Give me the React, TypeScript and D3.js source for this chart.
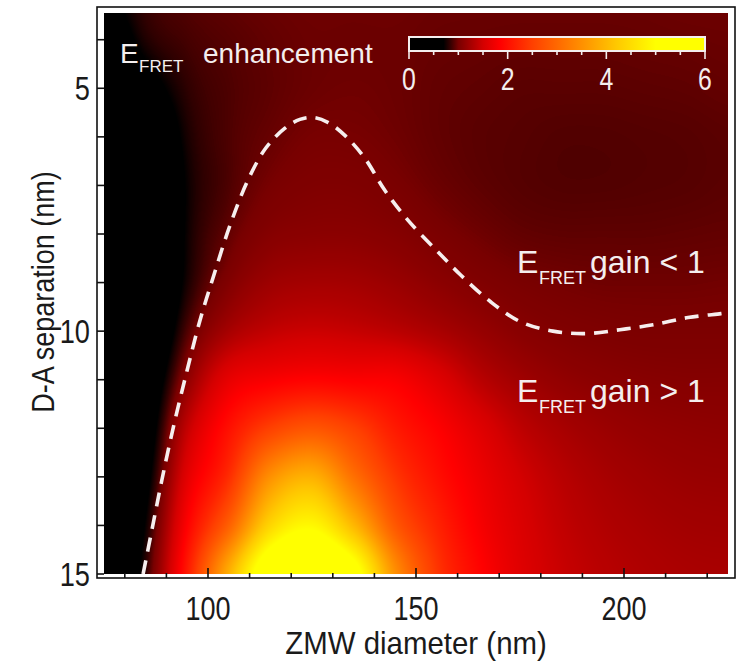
import React, { useMemo } from "react";
import * as d3 from "d3";

// ---------- data ----------
const X_GRID = [75, 85, 95, 105, 115, 125, 135, 145, 155, 165, 175, 185, 195, 205, 215, 225]; // ZMW diameter (nm)
const Y_GRID = [3, 4, 5, 6, 7, 8, 9, 10, 11, 12, 13, 14, 15]; // D-A separation (nm)
// E_FRET enhancement, one row per Y_GRID value, one column per X_GRID value
const ENHANCEMENT = [
  [0.65, 0.85, 0.92, 0.95, 0.97, 0.98, 0.98, 0.98, 0.97, 0.97, 0.97, 0.97, 0.97, 0.97, 0.98, 0.98],
  [0.45, 0.78, 0.88, 0.92, 0.95, 0.97, 0.97, 0.97, 0.96, 0.955, 0.95, 0.95, 0.95, 0.955, 0.96, 0.965],
  [0.1, 0.55, 0.82, 0.9, 0.94, 0.97, 0.98, 0.97, 0.95, 0.94, 0.93, 0.93, 0.93, 0.935, 0.94, 0.95],
  [0.0, 0.3, 0.76, 0.9, 0.96, 1.0, 1.0, 0.98, 0.95, 0.93, 0.92, 0.91, 0.91, 0.915, 0.92, 0.93],
  [0.0, 0.15, 0.72, 0.9, 1.0, 1.04, 1.04, 1.01, 0.97, 0.94, 0.92, 0.91, 0.91, 0.915, 0.92, 0.93],
  [0.0, 0.12, 0.73, 0.95, 1.07, 1.1, 1.1, 1.07, 1.02, 0.98, 0.95, 0.94, 0.94, 0.94, 0.945, 0.95],
  [0.0, 0.15, 0.76, 1.05, 1.2, 1.24, 1.23, 1.18, 1.11, 1.05, 1.01, 0.99, 0.98, 0.98, 0.98, 0.985],
  [0.0, 0.25, 0.9, 1.25, 1.4, 1.45, 1.42, 1.36, 1.27, 1.17, 1.09, 1.05, 1.03, 1.02, 1.02, 1.02],
  [0.03, 0.4, 1.12, 1.65, 1.8, 1.87, 1.83, 1.8, 1.6, 1.36, 1.22, 1.14, 1.1, 1.08, 1.07, 1.07],
  [0.08, 0.5, 1.4, 2.0, 2.5, 2.75, 2.5, 2.1, 1.85, 1.6, 1.38, 1.26, 1.19, 1.15, 1.13, 1.12],
  [0.12, 0.6, 1.62, 2.3, 3.5, 3.9, 3.1, 2.4, 2.0, 1.72, 1.5, 1.35, 1.26, 1.21, 1.18, 1.17],
  [0.18, 0.72, 1.85, 2.9, 4.4, 4.9, 4.0, 2.8, 2.2, 1.8, 1.56, 1.4, 1.31, 1.26, 1.23, 1.22],
  [0.25, 0.82, 2.1, 3.9, 5.6, 6.0, 5.3, 3.5, 2.4, 1.9, 1.6, 1.44, 1.35, 1.3, 1.27, 1.26],
];

// dashed boundary (E_FRET gain = 1)
const BOUNDARY_X = [84.4, 86.5, 88.9, 91.8, 95.0, 98.1, 101.4, 105.3, 109.6, 113.9, 118.5, 122.1, 125.2, 128.8, 132.9, 137.7, 142.5, 148.1, 155.3, 160.8, 168.0, 175.2, 182.9, 191.1, 199.0, 207.0, 215.4, 223.3, 225];
const BOUNDARY_Y = [15.0, 14.1, 13.07, 11.93, 10.8, 9.77, 8.85, 7.82, 6.89, 6.23, 5.82, 5.64, 5.6, 5.7, 5.97, 6.44, 7.1, 7.72, 8.37, 8.85, 9.4, 9.81, 10.0, 10.05, 9.97, 9.87, 9.72, 9.64, 9.62];

const X_TICKS = [80, 90, 100, 110, 120, 130, 140, 150, 160, 170, 180, 190, 200, 210, 220];
const X_LABELS = [100, 150, 200];
const Y_TICKS = [4, 5, 6, 7, 8, 9, 10, 11, 12, 13, 14, 15];
const Y_LABELS = [5, 10, 15];
const CBAR_TICKS = [0, 0.5, 1, 1.5, 2, 2.5, 3, 3.5, 4, 4.5, 5, 5.5, 6];
const CBAR_LABELS = [0, 2, 4, 6];

// colour map (value -> colour)
const CMAP_VALUES = [0, 0.7, 0.85, 1.0, 1.5, 1.85, 2.5, 3.3, 4.2, 5.0, 6.0];
const CMAP_COLORS = ["#000000", "#000000", "#380000", "#780000", "#d40000", "#ff0000", "#ff4000", "#ff8000", "#ffc800", "#ffff00", "#ffff00"];

// ---------- layout ----------
const W = 743, H = 662;
const X0 = 104, X1 = 728, Y0 = 13, Y1 = 574;
const FRAME = { l: 97, t: 7, r: 735, b: 578 };
const FONT = "'Liberation Sans', Arial, Helvetica, sans-serif";
const TXT = "#f4eeee";

const xScale = d3.scaleLinear().domain([75, 225]).range([X0, X1]);
const yScale = d3.scaleLinear().domain([3.45, 15]).range([Y0, Y1]);
const cScale = d3.scaleLinear<string>().domain(CMAP_VALUES).range(CMAP_COLORS).interpolate(d3.interpolateRgb).clamp(true);
const cbScale = d3.scaleLinear().domain([0, 6]).range([409, 705]);

function cr(p0: number, p1: number, p2: number, p3: number, t: number) {
  return 0.5 * (2 * p1 + (-p0 + p2) * t + (2 * p0 - 5 * p1 + 4 * p2 - p3) * t * t + (-p0 + 3 * p1 - 3 * p2 + p3) * t * t * t);
}

function sample(gx: number, gy: number) {
  const nx = X_GRID.length, ny = Y_GRID.length;
  let i = Math.floor(gx), j = Math.floor(gy);
  i = Math.max(0, Math.min(nx - 2, i));
  j = Math.max(0, Math.min(ny - 2, j));
  const tx = gx - i, ty = gy - j;
  const ci = (k: number) => Math.max(0, Math.min(nx - 1, k));
  const cj = (k: number) => Math.max(0, Math.min(ny - 1, k));
  const rows: number[] = [];
  for (let r = -1; r <= 2; r++) {
    const row = ENHANCEMENT[cj(j + r)];
    rows.push(cr(row[ci(i - 1)], row[ci(i)], row[ci(i + 1)], row[ci(i + 2)], tx));
  }
  return cr(rows[0], rows[1], rows[2], rows[3], ty);
}

function useHeatmap() {
  return useMemo(() => {
    const w = X1 - X0, h = Y1 - Y0;
    const canvas = document.createElement("canvas");
    canvas.width = w;
    canvas.height = h;
    const ctx = canvas.getContext("2d")!;
    const img = ctx.createImageData(w, h);
    const N = 1200;
    const lut: number[][] = [];
    for (let k = 0; k <= N; k++) {
      const c = d3.rgb(cScale((k / N) * 6));
      lut.push([c.r, c.g, c.b]);
    }
    const dx = X_GRID[1] - X_GRID[0];
    const dy = Y_GRID[1] - Y_GRID[0];
    for (let py = 0; py < h; py++) {
      const yv = yScale.invert(Y0 + py + 0.5);
      const gy = (yv - Y_GRID[0]) / dy;
      for (let px = 0; px < w; px++) {
        const xv = xScale.invert(X0 + px + 0.5);
        const gx = (xv - X_GRID[0]) / dx;
        let v = sample(gx, gy);
        v = Math.max(0, Math.min(6, v));
        const c = lut[Math.round((v / 6) * N)];
        const o = (py * w + px) * 4;
        img.data[o] = c[0];
        img.data[o + 1] = c[1];
        img.data[o + 2] = c[2];
        img.data[o + 3] = 255;
      }
    }
    ctx.putImageData(img, 0, 0);
    return canvas.toDataURL();
  }, []);
}

export default function App() {
  const url = useHeatmap();
  const linePts = BOUNDARY_X.map((x, i) => [xScale(x), yScale(BOUNDARY_Y[i])] as [number, number]);
  const lineGen = d3.line().curve(d3.curveCatmullRom.alpha(0.5));
  const path = lineGen(linePts) || "";

  return (
    <svg width={W} height={H} style={{ position: "absolute", left: 0, top: 0, background: "#fff" }} fontFamily={FONT}>
      <defs>
        <linearGradient id="cbar" x1="0" x2="1" y1="0" y2="0">
          {CMAP_VALUES.map((v, i) => (
            <stop key={i} offset={v / 6} stopColor={CMAP_COLORS[i]} />
          ))}
        </linearGradient>
        <clipPath id="plotclip">
          <rect x={X0} y={Y0} width={X1 - X0} height={Y1 - Y0} />
        </clipPath>
      </defs>

      {/* frame */}
      <rect x={FRAME.l} y={FRAME.t} width={FRAME.r - FRAME.l} height={FRAME.b - FRAME.t} fill="#fff" stroke="#111" strokeWidth={1.6} />

      {/* heatmap */}
      <image href={url} x={X0} y={Y0} width={X1 - X0} height={Y1 - Y0} preserveAspectRatio="none" />

      {/* boundary */}
      <path d={path} fill="none" stroke="#f6eeee" strokeWidth={3.6} strokeDasharray="14 9" clipPath="url(#plotclip)" />

      {/* bottom ticks */}
      {X_TICKS.map((t) => (
        <line key={t} x1={xScale(t)} x2={xScale(t)} y1={FRAME.b} y2={FRAME.b - (X_LABELS.includes(t) ? 10 : 5)} stroke="#111" strokeWidth={1.6} />
      ))}
      {X_LABELS.map((t) => (
        <text key={t} transform={`translate(${xScale(t)},620) scale(0.82,1)`} textAnchor="middle" fontSize={33} fill="#1a1a1a">
          {t}
        </text>
      ))}
      {/* left ticks */}
      {Y_TICKS.map((t) => (
        <line key={t} x1={FRAME.l} x2={FRAME.l + 7} y1={yScale(t)} y2={yScale(t)} stroke="#111" strokeWidth={1.6} />
      ))}
      {Y_LABELS.map((t) => (
        <text key={t} transform={`translate(90,${yScale(t) + 12}) scale(0.8,1)`} textAnchor="end" fontSize={34} fill="#1a1a1a">
          {t}
        </text>
      ))}

      {/* axis titles */}
      <text transform={`translate(416,654) scale(0.95,1)`} textAnchor="middle" fontSize={31} fill="#1a1a1a">
        ZMW diameter (nm)
      </text>
      <text transform={`translate(54,292) rotate(-90) scale(0.87,1)`} textAnchor="middle" fontSize={31} fill="#1a1a1a">
        D-A separation (nm)
      </text>

      {/* colorbar */}
      <text x={120} y={63} fontSize={28} fill={TXT}>E</text>
      <text x={139} y={72} fontSize={17} fill={TXT}>FRET</text>
      <text x={203} y={63} fontSize={28} fill={TXT}>enhancement</text>
      <rect x={cbScale(0)} y={37} width={cbScale(6) - cbScale(0)} height={14} fill="url(#cbar)" stroke={TXT} strokeWidth={2} />
      {CBAR_TICKS.map((t) => (
        <line key={t} x1={cbScale(t)} x2={cbScale(t)} y1={51} y2={CBAR_LABELS.includes(t) ? 59 : 55} stroke={TXT} strokeWidth={1.6} />
      ))}
      {CBAR_LABELS.map((t) => (
        <text key={t} transform={`translate(${cbScale(t)},90) scale(0.8,1)`} textAnchor="middle" fontSize={31} fill={TXT}>
          {t}
        </text>
      ))}

      {/* region labels */}
      <text x={517} y={273} fontSize={32} fill={TXT}>E</text>
      <text x={539} y={284} fontSize={18} fill={TXT}>FRET</text>
      <text x={590} y={273} fontSize={32} fill={TXT}>gain &lt; 1</text>
      <text x={517} y={402} fontSize={32} fill={TXT}>E</text>
      <text x={539} y={413} fontSize={18} fill={TXT}>FRET</text>
      <text x={590} y={402} fontSize={32} fill={TXT}>gain &gt; 1</text>
    </svg>
  );
}
